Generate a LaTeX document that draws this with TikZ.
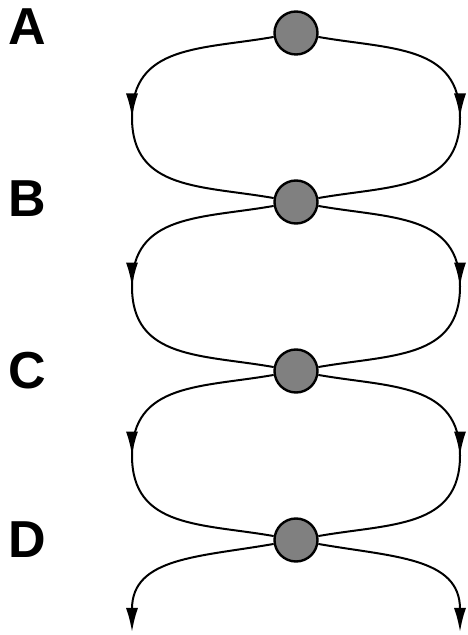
\documentclass[tikz,border=0pt]{standalone}
\usepackage{fontspec}
\setmainfont{Liberation Sans}
\usetikzlibrary{arrows.meta, positioning, decorations.markings}
\definecolor{ballgray}{gray}{0.5}
\tikzset{
  every picture/.style={line width=2pt},
  ball/.style={draw, circle, fill=ballgray, line width=2.4pt, minimum size=43pt, inner sep=0pt},
  lbl/.style={font=\fontsize{52}{52}\selectfont\bfseries, inner sep=0pt},
  arr/.style={-{Latex[length=24pt, width=12pt]}},
  midarrow/.style={postaction={decorate}, decoration={markings,
    mark=at position 0.5 with {\arrow{Latex[length=24pt, width=12pt]}}}}
}

\begin{document}
\begin{tikzpicture}[x=1pt, y=1pt, node distance=169pt, looseness=1.15]
    \useasboundingbox (0,0) rectangle (467,635);

    \node [ball] (A) at (296,602) {};
    \node [ball, below of=A] (B) {};
    \node [ball, below of=B] (C) {};
    \node [ball, below of=C] (D) {};

    \node [lbl, node distance=269pt, left of=A, yshift=6pt] (lA) {A};
    \node [lbl, node distance=269pt, left of=B, yshift=3pt] (lB) {B};
    \node [lbl, node distance=269pt, left of=C] (lC) {C};
    \node [lbl, node distance=269pt, left of=D] (lD) {D};

    \coordinate [below left=84.5pt and 164pt of A.center] (lAB);
    \coordinate [below right=84.5pt and 164pt of A.center] (rAB);
    \coordinate [below left=84.5pt and 164pt of B.center] (lBC);
    \coordinate [below right=84.5pt and 164pt of B.center] (rBC);
    \coordinate [below left=84.5pt and 164pt of C.center] (lCD);
    \coordinate [below right=84.5pt and 164pt of C.center] (rCD);
    \coordinate [below left=92pt and 164pt of D.center] (lDE);
    \coordinate [below right=92pt and 164pt of D.center] (rDE);

    % loops, arrow tip half way down
    \draw [midarrow] (A.190) to[out=190, in=90] (lAB) to[out=-90, in=170] (B.170);
    \draw [midarrow] (A.-10) to[out=-10, in=90] (rAB) to[out=-90, in=10] (B.10);
    \draw [midarrow] (B.190) to[out=190, in=90] (lBC) to[out=-90, in=170] (C.170);
    \draw [midarrow] (B.-10) to[out=-10, in=90] (rBC) to[out=-90, in=10] (C.10);
    \draw [midarrow] (C.190) to[out=190, in=90] (lCD) to[out=-90, in=170] (D.170);
    \draw [midarrow] (C.-10) to[out=-10, in=90] (rCD) to[out=-90, in=10] (D.10);

    \draw (D.190) edge[arr, out=190, in=90] (lDE);
    \draw (D.-10) edge[arr, out=-10, in=90] (rDE);
\end{tikzpicture}
\end{document}
